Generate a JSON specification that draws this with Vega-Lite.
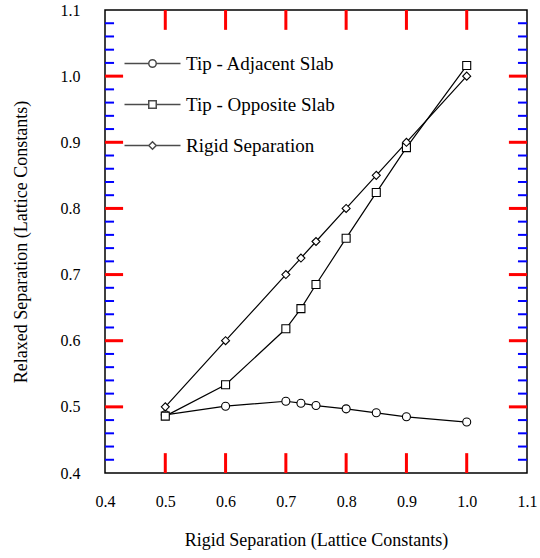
{
  "$schema": "https://vega.github.io/schema/vega-lite/v6.json",
  "width": 422,
  "height": 463,
  "autosize": {"type": "none"},
  "padding": {"left": 105, "top": 10, "right": 13, "bottom": 85},
  "background": "white",
  "config": {
    "font": "Liberation Serif",
    "view": {"stroke": "black", "strokeWidth": 1.5},
    "axis": {
      "domain": false,
      "grid": false,
      "ticks": false,
      "labelColor": "black",
      "titleColor": "black",
      "titleFontWeight": "normal",
      "labelFontSize": 16,
      "titleFontSize": 18
    },
    "legend": {
      "labelFontSize": 19,
      "labelColor": "black"
    }
  },
  "datasets": {
    "xmajor": [{"v": 0.5}, {"v": 0.6}, {"v": 0.7}, {"v": 0.8}, {"v": 0.9}, {"v": 1.0}],
    "ymajor": [{"v": 0.5}, {"v": 0.6}, {"v": 0.7}, {"v": 0.8}, {"v": 0.9}, {"v": 1.0}],
    "yminor": [
      {"v": 0.42}, {"v": 0.44}, {"v": 0.46}, {"v": 0.48},
      {"v": 0.52}, {"v": 0.54}, {"v": 0.56}, {"v": 0.58},
      {"v": 0.62}, {"v": 0.64}, {"v": 0.66}, {"v": 0.68},
      {"v": 0.72}, {"v": 0.74}, {"v": 0.76}, {"v": 0.78},
      {"v": 0.82}, {"v": 0.84}, {"v": 0.86}, {"v": 0.88},
      {"v": 0.92}, {"v": 0.94}, {"v": 0.96}, {"v": 0.98},
      {"v": 1.02}, {"v": 1.04}, {"v": 1.06}, {"v": 1.08}
    ]
  },
  "data": {
    "values": [
      {"series": "Tip - Adjacent Slab", "rigid": 0.5, "relaxed": 0.488},
      {"series": "Tip - Adjacent Slab", "rigid": 0.6, "relaxed": 0.501},
      {"series": "Tip - Adjacent Slab", "rigid": 0.7, "relaxed": 0.5085},
      {"series": "Tip - Adjacent Slab", "rigid": 0.725, "relaxed": 0.5055},
      {"series": "Tip - Adjacent Slab", "rigid": 0.75, "relaxed": 0.502},
      {"series": "Tip - Adjacent Slab", "rigid": 0.8, "relaxed": 0.497},
      {"series": "Tip - Adjacent Slab", "rigid": 0.85, "relaxed": 0.491},
      {"series": "Tip - Adjacent Slab", "rigid": 0.9, "relaxed": 0.485},
      {"series": "Tip - Adjacent Slab", "rigid": 1.0, "relaxed": 0.477},
      {"series": "Tip - Opposite Slab", "rigid": 0.5, "relaxed": 0.486},
      {"series": "Tip - Opposite Slab", "rigid": 0.6, "relaxed": 0.5335},
      {"series": "Tip - Opposite Slab", "rigid": 0.7, "relaxed": 0.618},
      {"series": "Tip - Opposite Slab", "rigid": 0.725, "relaxed": 0.6485},
      {"series": "Tip - Opposite Slab", "rigid": 0.75, "relaxed": 0.685},
      {"series": "Tip - Opposite Slab", "rigid": 0.8, "relaxed": 0.755},
      {"series": "Tip - Opposite Slab", "rigid": 0.85, "relaxed": 0.824},
      {"series": "Tip - Opposite Slab", "rigid": 0.9, "relaxed": 0.892},
      {"series": "Tip - Opposite Slab", "rigid": 1.0, "relaxed": 1.016},
      {"series": "Rigid Separation", "rigid": 0.5, "relaxed": 0.5},
      {"series": "Rigid Separation", "rigid": 0.6, "relaxed": 0.6},
      {"series": "Rigid Separation", "rigid": 0.7, "relaxed": 0.7},
      {"series": "Rigid Separation", "rigid": 0.725, "relaxed": 0.725},
      {"series": "Rigid Separation", "rigid": 0.75, "relaxed": 0.75},
      {"series": "Rigid Separation", "rigid": 0.8, "relaxed": 0.8},
      {"series": "Rigid Separation", "rigid": 0.85, "relaxed": 0.85},
      {"series": "Rigid Separation", "rigid": 0.9, "relaxed": 0.9},
      {"series": "Rigid Separation", "rigid": 1.0, "relaxed": 1.0}
    ]
  },
  "layer": [
    {
      "mark": {"type": "line", "color": "black", "strokeWidth": 1.2},
      "encoding": {
        "x": {
          "field": "rigid", "type": "quantitative",
          "scale": {"domain": [0.4, 1.1], "nice": false, "zero": false},
          "axis": {
            "orient": "bottom",
            "values": [0.4, 0.5, 0.6, 0.7, 0.8, 0.9, 1.0, 1.1],
            "format": ".1f",
            "labelPadding": 20,
            "labelFlush": false,
            "labelOverlap": false,
            "title": "Rigid Separation (Lattice Constants)",
            "titlePadding": 22
          }
        },
        "y": {
          "field": "relaxed", "type": "quantitative",
          "scale": {"domain": [0.4, 1.1], "nice": false, "zero": false},
          "axis": {
            "orient": "left",
            "values": [0.4, 0.5, 0.6, 0.7, 0.8, 0.9, 1.0, 1.1],
            "format": ".1f",
            "labelPadding": 25,
            "labelFlush": false,
            "labelOverlap": false,
            "title": "Relaxed Separation (Lattice Constants)",
            "titlePadding": 30
          }
        },
        "detail": {"field": "series"}
      }
    },
    {
      "data": {"name": "xmajor"},
      "mark": {"type": "rule", "color": "red", "strokeWidth": 3},
      "encoding": {
        "x": {"field": "v", "type": "quantitative", "axis": null},
        "y": {"datum": 0.4, "type": "quantitative", "axis": null},
        "y2": {"datum": 0.43}
      }
    },
    {
      "data": {"name": "xmajor"},
      "mark": {"type": "rule", "color": "red", "strokeWidth": 3},
      "encoding": {
        "x": {"field": "v", "type": "quantitative", "axis": null},
        "y": {"datum": 1.1, "type": "quantitative", "axis": null},
        "y2": {"datum": 1.07}
      }
    },
    {
      "data": {"name": "ymajor"},
      "mark": {"type": "rule", "color": "red", "strokeWidth": 3},
      "encoding": {
        "y": {"field": "v", "type": "quantitative", "axis": null},
        "x": {"datum": 0.4, "type": "quantitative", "axis": null},
        "x2": {"datum": 0.43}
      }
    },
    {
      "data": {"name": "ymajor"},
      "mark": {"type": "rule", "color": "red", "strokeWidth": 3},
      "encoding": {
        "y": {"field": "v", "type": "quantitative", "axis": null},
        "x": {"datum": 1.1, "type": "quantitative", "axis": null},
        "x2": {"datum": 1.07}
      }
    },
    {
      "data": {"name": "yminor"},
      "mark": {"type": "rule", "color": "blue", "strokeWidth": 2},
      "encoding": {
        "y": {"field": "v", "type": "quantitative", "axis": null},
        "x": {"datum": 0.4, "type": "quantitative", "axis": null},
        "x2": {"datum": 0.415}
      }
    },
    {
      "data": {"name": "yminor"},
      "mark": {"type": "rule", "color": "blue", "strokeWidth": 2},
      "encoding": {
        "y": {"field": "v", "type": "quantitative", "axis": null},
        "x": {"datum": 1.1, "type": "quantitative", "axis": null},
        "x2": {"datum": 1.085}
      }
    },
    {
      "mark": {"type": "point", "filled": true, "fill": "white", "stroke": "black", "strokeWidth": 1.1, "opacity": 1},
      "encoding": {
        "x": {"field": "rigid", "type": "quantitative", "axis": null},
        "y": {"field": "relaxed", "type": "quantitative", "axis": null},
        "shape": {
          "field": "series", "type": "nominal",
          "scale": {
            "domain": ["Tip - Adjacent Slab", "Tip - Opposite Slab", "Rigid Separation"],
            "range": ["circle", "square", "diamond"]
          },
          "legend": null
        },
        "size": {"value": 64}
      }
    },
    {
      "transform": [{"filter": "datum.rigid > 5"}],
      "mark": {"type": "point", "filled": false, "color": "black", "strokeWidth": 1.1},
      "encoding": {
        "x": {"field": "rigid", "type": "quantitative", "axis": null},
        "y": {"field": "relaxed", "type": "quantitative", "axis": null},
        "shape": {
          "field": "series", "type": "nominal",
          "scale": {
            "domain": ["Tip - Adjacent Slab", "Tip - Opposite Slab", "Rigid Separation"],
            "range": [
              "M-5.6,0H-0.75M0.75,0H5.6M-0.75,0A0.75,0.75 0 1,0 0.75,0A0.75,0.75 0 1,0 -0.75,0Z",
              "M-5.6,0H-0.75M0.75,0H5.6M-0.75,-0.75H0.75V0.75H-0.75Z",
              "M-5.6,0H-0.75M0.75,0H5.6M-0.75,0L0,-0.75L0.75,0L0,0.75Z"
            ]
          },
          "legend": {
            "title": null,
            "orient": "none",
            "legendX": 38,
            "legendY": 44,
            "padding": 0,
            "rowPadding": 21,
            "labelOffset": 24,
            "symbolSize": 100
          }
        }
      }
    }
  ],
  "resolve": {
    "axis": {"x": "independent", "y": "independent"},
    "scale": {"shape": "independent"}
  }
}
